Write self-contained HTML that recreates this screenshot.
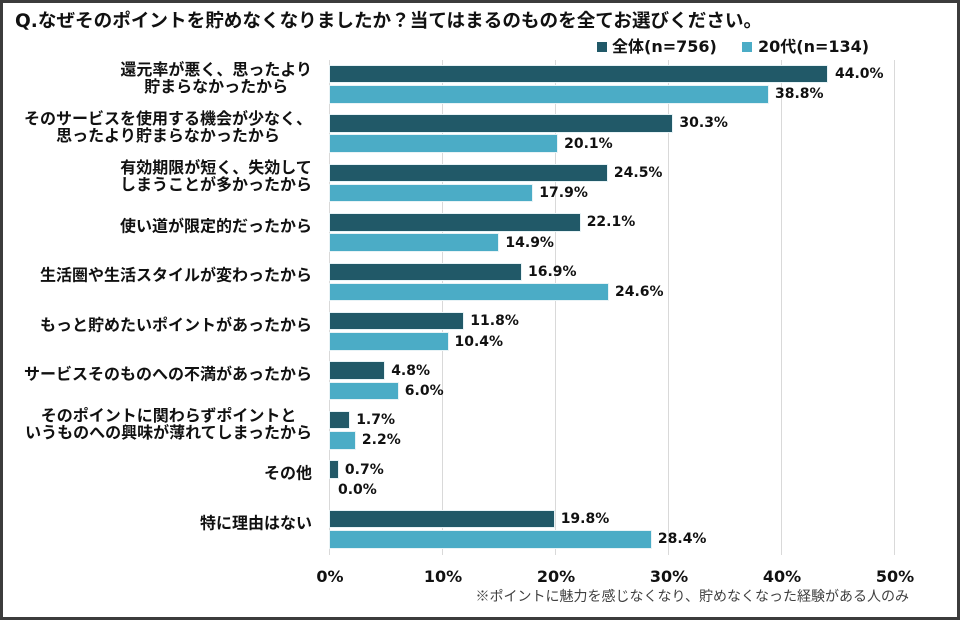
<!DOCTYPE html>
<html><head><meta charset="utf-8"><style>
*{margin:0;padding:0;box-sizing:border-box}
html,body{width:960px;height:620px;background:#fff;overflow:hidden}
#f{position:absolute;left:0;top:0;width:960px;height:620px;border:3px solid #3c3c3c;}
.a{position:absolute;white-space:nowrap}
.jp{font-family:"DejaVu Sans","Noto Sans CJK JP",sans-serif;font-weight:bold;color:#111}
.g{position:absolute;top:60px;height:495px;width:1px;background:#d9d9d9}
.d{position:absolute;height:16.5px;background:#215968;outline:1px solid #e8f3f6}
.l{position:absolute;height:16.5px;background:#4bacc6;outline:1px solid #e8f3f6}
.v{position:absolute;font-family:"DejaVu Sans",sans-serif;font-weight:bold;font-size:14px;line-height:16px;color:#111;transform:translateY(-50%)}
.c{position:absolute;right:648px;text-align:center;font-size:16px;line-height:17px;transform:translateY(-50%)}
.t{position:absolute;top:568px;font-family:"DejaVu Sans",sans-serif;font-weight:bold;font-size:16px;line-height:18px;color:#111;transform:translateX(-50%)}
</style></head><body>
<div id="f"></div>
<div class="a jp" style="left:15px;top:10px;font-size:18.6px;line-height:24px">Q.なぜそのポイントを貯めなくなりましたか？当てはまるのものを全てお選びください。</div>
<div style="position:absolute;left:597px;top:42px;width:10px;height:10px;background:#215968"></div>
<div class="a jp" style="left:612px;top:37px;font-size:16px;line-height:20px">全体(n=756)</div>
<div style="position:absolute;left:742px;top:42px;width:10px;height:10px;background:#4bacc6"></div>
<div class="a jp" style="left:758px;top:37px;font-size:16px;line-height:20px">20代(n=134)</div>

<div class="g" style="left:329px"></div>
<div class="g" style="left:442px"></div>
<div class="g" style="left:555px"></div>
<div class="g" style="left:668px"></div>
<div class="g" style="left:781px"></div>
<div class="g" style="left:894px"></div>

<div class="t" style="left:330px">0%</div>
<div class="t" style="left:443px">10%</div>
<div class="t" style="left:556px">20%</div>
<div class="t" style="left:669px">30%</div>
<div class="t" style="left:782px">40%</div>
<div class="t" style="left:895px">50%</div>

<div class="a" style="right:51px;top:587px;font-family:'Liberation Sans','Noto Sans CJK JP',sans-serif;font-size:14px;line-height:18px;color:#404040">※ポイントに魅力を感じなくなり、貯めなくなった経験がある人のみ</div>

<div class="a jp c" style="top:77.5px">還元率が悪く、思ったより<br>貯まらなかったから</div>
<div class="a jp c" style="top:126.9px">そのサービスを使用する機会が少なく、<br>思ったより貯まらなかったから</div>
<div class="a jp c" style="top:176.4px">有効期限が短く、失効して<br>しまうことが多かったから</div>
<div class="a jp c" style="top:225.8px">使い道が限定的だったから</div>
<div class="a jp c" style="top:275.3px">生活圏や生活スタイルが変わったから</div>
<div class="a jp c" style="top:324.7px">もっと貯めたいポイントがあったから</div>
<div class="a jp c" style="top:374.1px">サービスそのものへの不満があったから</div>
<div class="a jp c" style="top:423.6px">そのポイントに関わらずポイントと<br>いうものへの興味が薄れてしまったから</div>
<div class="a jp c" style="top:473.0px">その他</div>
<div class="a jp c" style="top:522.5px">特に理由はない</div>

<div class="d" style="left:330px;top:65.7px;width:497.2px"></div>
<div class="l" style="left:330px;top:86px;width:438.4px"></div>
<div class="v" style="left:835px;top:74px">44.0%</div>
<div class="v" style="left:775px;top:94.3px">38.8%</div>

<div class="d" style="left:330px;top:115.1px;width:342.4px"></div>
<div class="l" style="left:330px;top:135.4px;width:227.1px"></div>
<div class="v" style="left:679.4px;top:123.4px">30.3%</div>
<div class="v" style="left:564.1px;top:143.7px">20.1%</div>

<div class="d" style="left:330px;top:164.6px;width:276.9px"></div>
<div class="l" style="left:330px;top:184.9px;width:202.3px"></div>
<div class="v" style="left:613.9px;top:172.9px">24.5%</div>
<div class="v" style="left:539.3px;top:193.2px">17.9%</div>

<div class="d" style="left:330px;top:214px;width:249.7px"></div>
<div class="l" style="left:330px;top:234.3px;width:168.4px"></div>
<div class="v" style="left:586.7px;top:222.3px">22.1%</div>
<div class="v" style="left:505.4px;top:242.6px">14.9%</div>

<div class="d" style="left:330px;top:263.5px;width:191px"></div>
<div class="l" style="left:330px;top:283.8px;width:278px"></div>
<div class="v" style="left:528px;top:271.8px">16.9%</div>
<div class="v" style="left:615px;top:292.1px">24.6%</div>

<div class="d" style="left:330px;top:312.9px;width:133.3px"></div>
<div class="l" style="left:330px;top:333.2px;width:117.5px"></div>
<div class="v" style="left:470.3px;top:321.2px">11.8%</div>
<div class="v" style="left:454.5px;top:341.5px">10.4%</div>

<div class="d" style="left:330px;top:362.3px;width:54.2px"></div>
<div class="l" style="left:330px;top:382.6px;width:67.8px"></div>
<div class="v" style="left:391.2px;top:370.6px">4.8%</div>
<div class="v" style="left:404.8px;top:390.9px">6.0%</div>

<div class="d" style="left:330px;top:411.8px;width:19.2px"></div>
<div class="l" style="left:330px;top:432.1px;width:24.9px"></div>
<div class="v" style="left:356.2px;top:420.1px">1.7%</div>
<div class="v" style="left:361.9px;top:440.4px">2.2%</div>

<div class="d" style="left:330px;top:461.2px;width:7.9px"></div>
<div class="v" style="left:344.9px;top:469.5px">0.7%</div>
<div class="v" style="left:338px;top:489.8px">0.0%</div>

<div class="d" style="left:330px;top:510.7px;width:223.7px"></div>
<div class="l" style="left:330px;top:531px;width:320.9px"></div>
<div class="v" style="left:560.7px;top:519px">19.8%</div>
<div class="v" style="left:657.9px;top:539.3px">28.4%</div>
</body></html>
